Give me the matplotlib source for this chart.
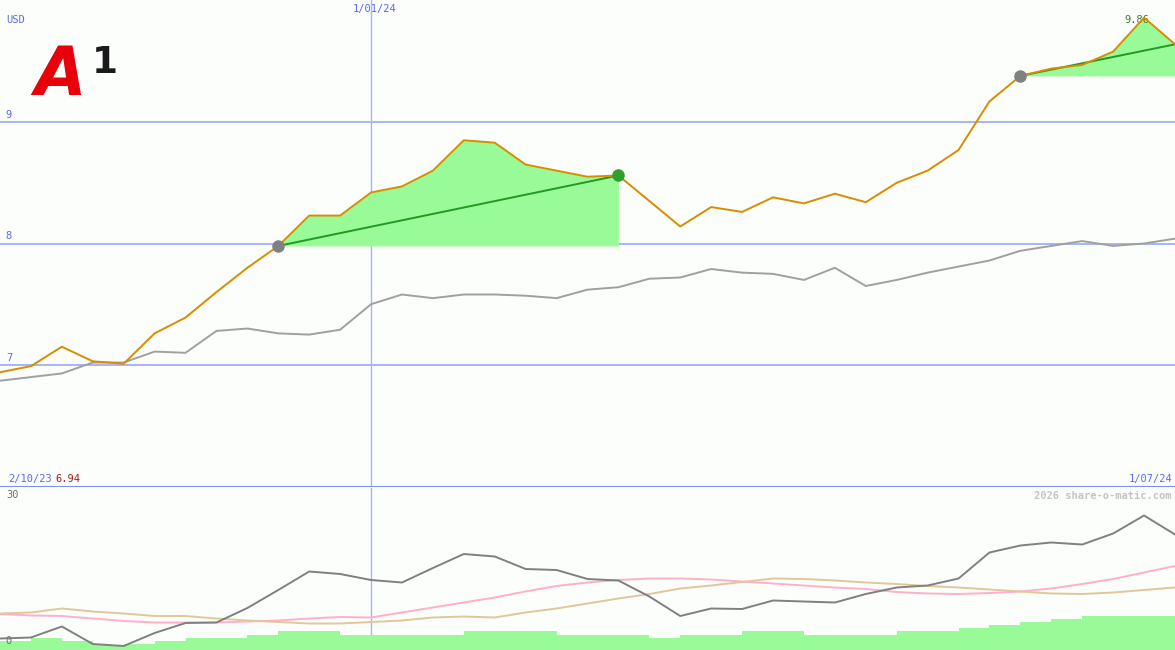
import matplotlib
matplotlib.use("Agg")
import matplotlib.pyplot as plt
import numpy as np

plt.rcParams['font.family'] = 'DejaVu Sans Mono'
plt.rcParams['font.size'] = 7.5

# weekly closes, 2/10/23 .. 1/07/24
price = [6.94, 6.99, 7.15, 7.03, 7.01, 7.26, 7.39, 7.60, 7.80, 7.98,
         8.23, 8.23, 8.42, 8.47, 8.60, 8.85, 8.83, 8.65, 8.60, 8.55,
         8.56, 8.35, 8.14, 8.30, 8.26, 8.38, 8.33, 8.41, 8.34, 8.50,
         8.60, 8.77, 9.17, 9.38, 9.44, 9.47, 9.58, 9.86, 9.64]
bench = [6.87, 6.90, 6.93, 7.02, 7.02, 7.11, 7.10, 7.28, 7.30, 7.26,
         7.25, 7.29, 7.50, 7.58, 7.55, 7.58, 7.58, 7.57, 7.55, 7.62,
         7.64, 7.71, 7.72, 7.79, 7.76, 7.75, 7.70, 7.80, 7.65, 7.70,
         7.76, 7.81, 7.86, 7.94, 7.98, 8.02, 7.98, 8.00, 8.04]
osc = [2.3, 2.5, 4.7, 1.2, 0.8, 3.4, 5.4, 5.5, 8.4, 12.0,
       15.7, 15.2, 14.0, 13.5, 16.4, 19.2, 18.7, 16.2, 16.0, 14.2,
       13.9, 10.7, 6.8, 8.3, 8.2, 9.9, 9.7, 9.5, 11.2, 12.5,
       12.9, 14.3, 19.5, 20.9, 21.5, 21.1, 23.3, 26.9, 23.1]
osc_pink = [7.2, 6.9, 6.8, 6.3, 5.8, 5.5, 5.5, 5.5, 5.7, 5.9,
            6.3, 6.6, 6.5, 7.5, 8.5, 9.5, 10.5, 11.7, 12.8, 13.5,
            14.0, 14.3, 14.3, 14.1, 13.7, 13.3, 12.9, 12.5, 12.2, 11.6,
            11.3, 11.2, 11.4, 11.7, 12.3, 13.2, 14.2, 15.5, 16.8]
osc_tan = [7.3, 7.5, 8.3, 7.7, 7.3, 6.8, 6.8, 6.3, 5.9, 5.6,
           5.3, 5.3, 5.6, 5.9, 6.5, 6.7, 6.5, 7.5, 8.3, 9.3,
           10.3, 11.2, 12.3, 12.9, 13.6, 14.3, 14.2, 13.9, 13.5, 13.2,
           12.8, 12.5, 12.1, 11.7, 11.3, 11.2, 11.5, 12.0, 12.5]
vol = [1.8, 2.5, 1.8, 1.0, 1.2, 1.8, 2.5, 2.5, 3.0, 3.8,
       3.8, 3.0, 3.0, 3.0, 3.0, 3.8, 3.8, 3.8, 3.0, 3.0,
       3.0, 2.5, 3.0, 3.0, 3.8, 3.8, 3.0, 3.0, 3.0, 3.8,
       3.8, 4.4, 5.0, 5.6, 6.2, 6.8, 6.8, 6.8]
price_ticks = [7, 8, 9]
jan_idx = 12
rally1 = (9, 20)
rally2 = (33, 38)

x = np.arange(len(price))
bg = '#fcfefc'
gridc = '#a8b4f4'
bluetxt = '#5a6af0'
orange = '#d98c00'

fig = plt.figure(figsize=(11.75, 6.5), dpi=100, facecolor=bg)
ax = fig.add_axes([0, 163 / 650, 1, 487 / 650])
ax2 = fig.add_axes([0, 0, 1, 162 / 650])
for a in (ax, ax2):
    a.set_facecolor(bg)
    a.set_xlim(0, len(price) - 1)
    a.axis('off')
    a.axvline(jan_idx, color=gridc, lw=1.0, zorder=0)

ax.set_ylim(5.995, 10.005)
for t in price_ticks:
    ax.axhline(t, color=gridc, lw=1.4, zorder=0)
    ax.text(0.005, t + 0.02, str(t), transform=ax.get_yaxis_transform(),
            color=bluetxt, ha='left', va='bottom')
ax.axhline(5.995, color='#7b8ff0', lw=2.2, zorder=5)

# rally highlights
for s, e in (rally1, rally2):
    xs = x[s:e + 1]
    ax.fill_between(xs, price[s:e + 1], price[s], color='#98fb98', lw=0, zorder=1)
    ax.plot([s, e], [price[s], price[e]], color='#229922', lw=1.4, zorder=3)

ax.plot(x, bench, color='#a0a0a0', lw=1.4, zorder=2)
ax.plot(x, price, color=orange, lw=1.4, zorder=4)
ax.plot(rally1[0], price[rally1[0]], 'o', color='#808080', ms=8, zorder=6)
ax.plot(rally1[1], price[rally1[1]], 'o', color='#2ca02c', ms=8, zorder=6)
ax.plot(rally2[0], price[rally2[0]], 'o', color='#808080', ms=8, zorder=6)

imax = int(np.argmax(price))
ax.annotate(f"{max(price):.2f}", (imax, max(price)), xytext=(-5, -2),
            textcoords='offset points', color='#3a7a3a',
            ha='center', va='center', zorder=3)

# texts
fig.text(6 / 1175, 1 - 20 / 650, "USD", color=bluetxt, va='center', ha='left')
fig.text(375 / 1175, 1 - 9 / 650, "1/01/24", color=bluetxt, va='center', ha='center')
fig.text(8 / 1175, 1 - 479 / 650, "2/10/23", color=bluetxt, va='center', ha='left')
fig.text(55 / 1175, 1 - 479 / 650, f"{price[0]:.2f}", color='#b01818', va='center', ha='left')
fig.text(1172 / 1175, 1 - 479 / 650, "1/07/24", color=bluetxt, va='center', ha='right')

# logo
fig.text(34 / 1175, 1 - 95 / 650, "A", color='#e8000b', fontsize=48,
         family='DejaVu Sans', weight='bold', style='oblique', va='baseline', ha='left')
fig.text(92 / 1175, 1 - 73 / 650, "1", color='#1a1a1a', fontsize=27,
         family='DejaVu Sans', weight='bold', va='baseline', ha='left')

# lower panel
ax2.set_ylim(0, 32.4)
ax2.bar(x[:-1], vol, width=1.0, align='edge', color='#98fb98', lw=0, zorder=1)
ax2.plot(x, osc_pink, color='#ffb0c8', lw=1.4, zorder=2)
ax2.plot(x, osc_tan, color='#e0c89a', lw=1.4, zorder=2)
ax2.plot(x, osc, color='#808080', lw=1.4, zorder=3)
fig.text(6 / 1175, 1 - 495 / 650, "30", color='#707070', va='center', ha='left')
fig.text(5 / 1175, 1 - 641 / 650, "0", color='#707070', va='center', ha='left')
fig.text(1172 / 1175, 1 - 496 / 650, "2026 share-o-matic.com", color='#c4c4c4',
         weight='bold', va='center', ha='right')

fig.savefig("out.png", dpi=100, facecolor=bg)
